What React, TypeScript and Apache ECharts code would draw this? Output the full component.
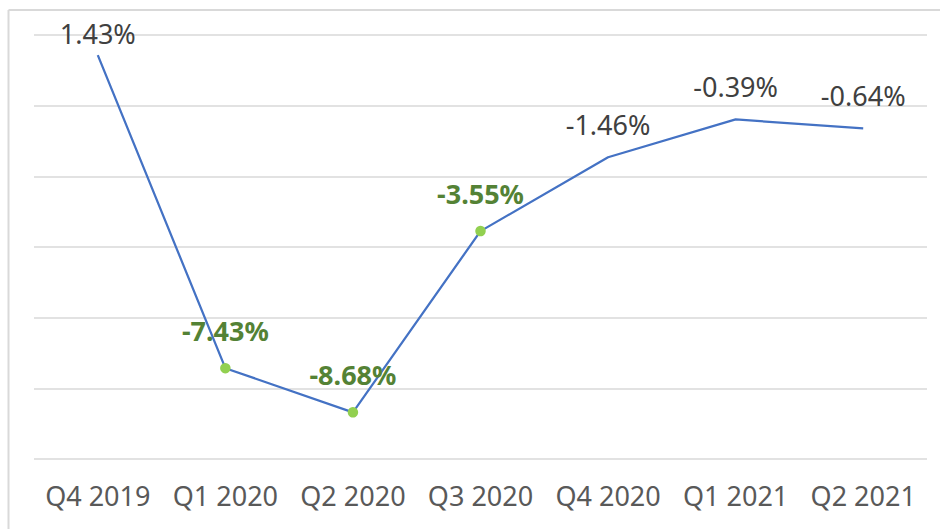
import React, { useEffect, useRef } from "react";
import * as echarts from "echarts";

const categories = ["Q4 2019", "Q1 2020", "Q2 2020", "Q3 2020", "Q4 2020", "Q1 2021", "Q2 2021"];
const values = [1.43, -7.43, -8.68, -3.55, -1.46, -0.39, -0.64];
const highlighted = [false, true, true, true, false, false, false];
const yMin = -10;
const yMax = 2;
const yInterval = 2;

export default function App() {
  const ref = useRef<HTMLDivElement>(null);
  useEffect(() => {
    if (!ref.current) return;
    const chart = echarts.init(ref.current, null, { renderer: "svg" });
    const font = "'Noto Sans', 'Open Sans', sans-serif";
    const data = values.map((v, i) => {
      const hi = highlighted[i];
      return {
        value: v,
        symbol: "circle",
        symbolSize: hi ? 10.5 : 0.01,
        itemStyle: { color: hi ? "#92D050" : "rgba(0,0,0,0)" },
        label: {
          show: true,
          position: "top",
          distance: i === 0 ? 8 : 19,
          formatter: (p: any) => p.value.toFixed(2) + "%",
          color: hi ? "#548235" : "#404040",
          fontWeight: hi ? "bold" : "normal",
          fontSize: 27,
          fontFamily: font,
        },
      };
    });
    chart.setOption({
      animation: false,
      backgroundColor: "#ffffff",
      grid: { left: 34, right: 13, top: 35, bottom: 70 },
      xAxis: {
        type: "category",
        data: categories,
        boundaryGap: true,
        axisLine: { show: false },
        axisTick: { show: false },
        axisLabel: { color: "#595959", fontSize: 27, fontFamily: font, margin: 23, interval: 0 },
      },
      yAxis: {
        type: "value",
        min: yMin,
        max: yMax,
        interval: yInterval,
        axisLabel: { show: false },
        axisLine: { show: false },
        axisTick: { show: false },
        splitLine: { lineStyle: { color: "#d9d9d9", width: 1.5 } },
      },
      series: [
        {
          type: "line",
          data,
          showSymbol: true,
          lineStyle: { color: "#4472C4", width: 2.25 },
          labelLayout: { hideOverlap: false },
          z: 3,
        },
      ],
      graphic: [
        { type: "line", shape: { x1: 8.5, y1: 10, x2: 8.5, y2: 529 }, style: { stroke: "#d9d9d9", lineWidth: 2 } },
        { type: "line", shape: { x1: 8.5, y1: 10, x2: 940, y2: 10 }, style: { stroke: "#d9d9d9", lineWidth: 2 } },
      ],
    });
    return () => chart.dispose();
  }, []);
  return <div ref={ref} style={{ position: "fixed", left: 0, top: 0, width: 940, height: 529 }} />;
}
